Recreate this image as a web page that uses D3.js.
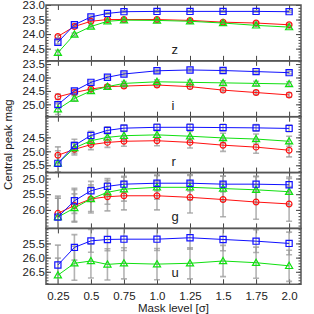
<!DOCTYPE html>
<html>
<head>
<meta charset="utf-8">
<script src="https://cdn.jsdelivr.net/npm/d3@7"></script>
<style>
  body { margin: 0; background: #fff; }
  text { font-family: "Liberation Sans", Arial, sans-serif; fill: #222; }
</style>
</head>
<body>
<div class="canvas"></div>
<script>
// mask levels (sigma)
const maskLevels = [0.25, 0.375, 0.5, 0.625, 0.75, 1.0, 1.25, 1.5, 1.75, 2.0];
const xTickLabels = ['0.25', '0.5', '0.75', '1.0', '1.25', '1.5', '1.75', '2.0'];

const bands = ['z', 'i', 'r', 'g', 'u'];

// central peak mag, per band, per series
const redMag = {
  z: [24.08, 23.74, 23.56, 23.50, 23.50, 23.50, 23.53, 23.59, 23.62, 23.68],
  i: [24.72, 24.56, 24.43, 24.34, 24.32, 24.28, 24.34, 24.47, 24.56, 24.65],
  r: [25.14, 24.93, 24.76, 24.68, 24.64, 24.62, 24.68, 24.78, 24.85, 24.96],
  g: [26.11, 25.86, 25.65, 25.58, 25.55, 25.55, 25.60, 25.67, 25.75, 25.81]
};
const greenMag = {
  z: [24.64, 24.01, 23.74, 23.56, 23.52, 23.53, 23.56, 23.62, 23.70, 23.76],
  i: [25.18, 24.78, 24.50, 24.34, 24.22, 24.16, 24.18, 24.20, 24.22, 24.24],
  r: [25.43, 24.88, 24.62, 24.50, 24.44, 24.41, 24.46, 24.52, 24.56, 24.64],
  g: [26.23, 25.94, 25.65, 25.44, 25.34, 25.28, 25.28, 25.32, 25.36, 25.42],
  u: [26.62, 26.20, 26.12, 26.24, 26.20, 26.23, 26.20, 26.12, 26.18, 26.29]
};
const blueMag = {
  z: [24.28, 23.68, 23.41, 23.29, 23.23, 23.22, 23.22, 23.22, 23.22, 23.23],
  i: [25.01, 24.50, 24.18, 23.99, 23.87, 23.75, 23.72, 23.74, 23.78, 23.82],
  r: [25.43, 24.79, 24.43, 24.25, 24.17, 24.14, 24.14, 24.15, 24.16, 24.18],
  g: [26.23, 25.71, 25.39, 25.25, 25.18, 25.15, 25.15, 25.18, 25.18, 25.20],
  u: [26.26, 25.64, 25.41, 25.36, 25.35, 25.35, 25.30, 25.36, 25.42, 25.50]
};

// error bars
const redErr = {
  z: [0.05, 0.04, 0.04, 0.04, 0.04, 0.04, 0.04, 0.04, 0.04, 0.04],
  i: [0.10, 0.07, 0.06, 0.06, 0.06, 0.06, 0.07, 0.07, 0.07, 0.08],
  r: [0.30, 0.20, 0.18, 0.18, 0.18, 0.18, 0.20, 0.22, 0.22, 0.24],
  g: [0.55, 0.50, 0.45, 0.45, 0.45, 0.45, 0.50, 0.55, 0.55, 0.55]
};
const greenErr = {
  z: [0.08, 0.05, 0.04, 0.04, 0.04, 0.04, 0.04, 0.04, 0.04, 0.04],
  i: [0.20, 0.10, 0.08, 0.07, 0.07, 0.07, 0.08, 0.08, 0.08, 0.08],
  r: [0.30, 0.20, 0.18, 0.16, 0.16, 0.16, 0.17, 0.17, 0.18, 0.18],
  g: [0.60, 0.45, 0.40, 0.38, 0.38, 0.38, 0.40, 0.40, 0.42, 0.42],
  u: [0.60, 0.60, 0.60, 0.55, 0.55, 0.55, 0.55, 0.55, 0.55, 0.55]
};
const blueErr = {
  z: [0.06, 0.04, 0.03, 0.03, 0.03, 0.03, 0.03, 0.03, 0.03, 0.03],
  i: [0.10, 0.06, 0.05, 0.05, 0.05, 0.05, 0.05, 0.05, 0.05, 0.05],
  r: [0.45, 0.22, 0.15, 0.13, 0.12, 0.12, 0.12, 0.12, 0.12, 0.12],
  g: [0.60, 0.40, 0.30, 0.25, 0.25, 0.25, 0.25, 0.25, 0.25, 0.25],
  u: [0.70, 0.45, 0.40, 0.40, 0.40, 0.40, 0.40, 0.40, 0.40, 0.40]
};

// y range of each panel (mag, top -> bottom) and its labelled ticks
const yDomains = {
  z: [23.0, 24.92], i: [23.38, 25.46], r: [23.76, 25.76],
  g: [24.81, 26.59], u: [24.97, 26.94]
};
const yTicks = {
  z: [23.0, 23.5, 24.0, 24.5], i: [23.5, 24.0, 24.5, 25.0],
  r: [24.5, 25.0, 25.5], g: [25.0, 25.5, 26.0], u: [25.5, 26.0, 26.5]
};

const W = 314, H = 314;
const padLeft = 46, padRight = 301, padTop = 5, panelH = 55.85;

const svg = d3.select('.canvas')
  .append('svg')
  .attr('width', W)
  .attr('height', H);

const x = d3.scaleLinear().domain([0.16, 2.09]).range([padLeft, padRight]);

const series = [
  { mag: redMag, err: redErr, color: '#ff1010', shape: 'circle' },
  { mag: greenMag, err: greenErr, color: '#10e010', shape: 'triangle' },
  { mag: blueMag, err: blueErr, color: '#1010ff', shape: 'square' }
];

bands.forEach((band, p) => {
  const y0 = padTop + p * panelH;
  const y = d3.scaleLinear().domain(yDomains[band]).range([y0, y0 + panelH]);
  const g = svg.append('g');

  g.append('clipPath').attr('id', 'clip-' + band)
    .append('rect')
    .attr('x', padLeft).attr('y', y0)
    .attr('width', padRight - padLeft).attr('height', panelH);

  // minor y ticks
  const lo = Math.ceil(yDomains[band][0] * 10) / 10;
  const minor = d3.range(lo, yDomains[band][1], 0.1);
  g.append('g').attr('transform', `translate(${padLeft},0)`)
    .call(d3.axisLeft(y).tickValues(minor).tickSize(-2.5).tickFormat(''));
  g.append('g').attr('transform', `translate(${padRight},0)`)
    .call(d3.axisRight(y).tickValues(minor).tickSize(-2.5).tickFormat(''));

  // major y ticks
  g.append('g').attr('transform', `translate(${padLeft},0)`)
    .call(d3.axisLeft(y).tickValues(yTicks[band]).tickSize(-5).tickPadding(1)
      .tickFormat(d3.format('.1f')))
    .call(a => a.selectAll('text').attr('font-size', 11.5).attr('fill', '#222'));
  g.append('g').attr('transform', `translate(${padRight},0)`)
    .call(d3.axisRight(y).tickValues(yTicks[band]).tickSize(-5).tickFormat(''));

  // x ticks top and bottom
  const xt = xTickLabels.map(Number);
  g.append('g').attr('transform', `translate(0,${y0})`)
    .call(d3.axisTop(x).tickValues(xt).tickSize(-5).tickFormat(''));
  const bx = g.append('g').attr('transform', `translate(0,${y0 + panelH})`)
    .call(d3.axisBottom(x).tickValues(xt).tickSize(-5)
      .tickFormat((d, i) => p === bands.length - 1 ? xTickLabels[i] : ''));
  bx.selectAll('text').attr('font-size', 11.5).attr('y', 8).attr('fill', '#222');

  g.selectAll('.domain').attr('stroke', 'none');
  g.selectAll('.tick line').attr('stroke', '#444').attr('stroke-width', 1);

  const plot = g.append('g').attr('clip-path', `url(#clip-${band})`);

  series.forEach(s => {
    if (!s.mag[band]) return;
    const pts = maskLevels.map((m, i) => ({ m, v: s.mag[band][i], e: s.err[band][i] }));

    // error bars
    const eb = plot.append('g').attr('stroke', '#999').attr('stroke-opacity', 0.75)
      .attr('stroke-width', 1.6);
    eb.selectAll('line.v').data(pts).join('line').attr('class', 'v')
      .attr('x1', d => x(d.m)).attr('x2', d => x(d.m))
      .attr('y1', d => y(d.v - d.e)).attr('y2', d => y(d.v + d.e));
    eb.selectAll('line.t').data(pts).join('line').attr('class', 't')
      .attr('x1', d => x(d.m) - 3).attr('x2', d => x(d.m) + 3)
      .attr('y1', d => y(d.v - d.e)).attr('y2', d => y(d.v - d.e));
    eb.selectAll('line.b').data(pts).join('line').attr('class', 'b')
      .attr('x1', d => x(d.m) - 3).attr('x2', d => x(d.m) + 3)
      .attr('y1', d => y(d.v + d.e)).attr('y2', d => y(d.v + d.e));
  });

  series.forEach(s => {
    if (!s.mag[band]) return;
    const pts = maskLevels.map((m, i) => ({ m, v: s.mag[band][i] }));
    plot.append('path').datum(pts)
      .attr('fill', 'none').attr('stroke', s.color).attr('stroke-width', 1)
      .attr('d', d3.line().x(d => x(d.m)).y(d => y(d.v)));

    const sym = s.shape === 'circle' ? d3.symbolCircle
      : s.shape === 'triangle' ? d3.symbolTriangle : d3.symbolSquare;
    const size = s.shape === 'circle' ? 26 : s.shape === 'triangle' ? 22 : 38;
    plot.selectAll(null).data(pts).join('path')
      .attr('transform', d => `translate(${x(d.m)},${y(d.v) + (s.shape === 'triangle' ? 0.6 : 0)})`)
      .attr('d', d3.symbol().type(sym).size(size))
      .attr('fill', 'none').attr('stroke', s.color).attr('stroke-width', 1.2);
  });

  // panel frame
  g.append('rect')
    .attr('x', padLeft).attr('y', y0)
    .attr('width', padRight - padLeft).attr('height', panelH)
    .attr('fill', 'none').attr('stroke', '#555').attr('stroke-width', 1.5);

  // band label
  g.append('text')
    .attr('x', x(1.11)).attr('y', y0 + panelH - 7)
    .attr('font-size', 13)
    .text(band);
});

svg.append('text')
  .attr('transform', `translate(12,${padTop + panelH * 2.5}) rotate(-90)`)
  .attr('text-anchor', 'middle')
  .attr('font-size', 11.5)
  .text('Central peak mag');

svg.append('text')
  .attr('x', (padLeft + padRight) / 2).attr('y', 312)
  .attr('text-anchor', 'middle')
  .attr('font-size', 11.5)
  .text('Mask level [σ]');
</script>
</body>
</html>
